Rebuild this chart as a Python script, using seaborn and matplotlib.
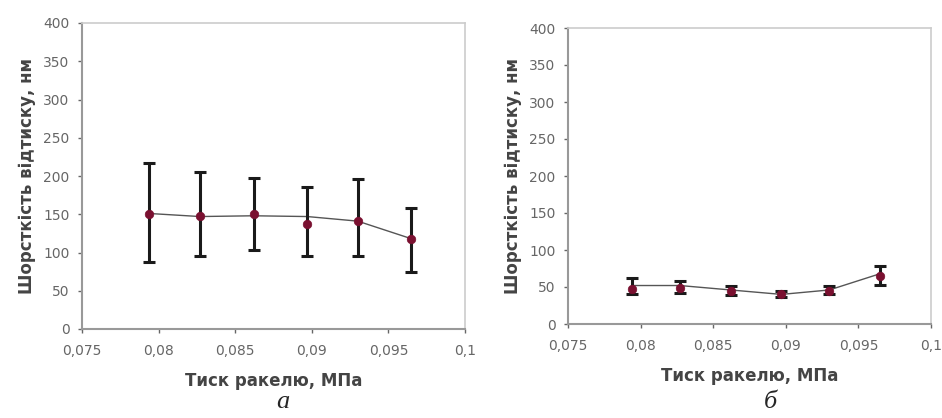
import matplotlib
matplotlib.use("Agg")
import matplotlib.pyplot as plt
import seaborn as sns
import pandas as pd
from matplotlib.ticker import FuncFormatter

# Data
pressure = [0.0794, 0.0827, 0.0862, 0.0897, 0.0930, 0.0965]

rough_a = [150, 148, 150, 137, 141, 117]
upper_a = [217, 205, 198, 186, 196, 158]
lower_a = [88, 95, 103, 95, 95, 75]
trend_a = [151, 147, 148, 147, 141, 118]

rough_b = [47, 49, 44, 40, 44, 65]
upper_b = [62, 58, 52, 45, 51, 79]
lower_b = [40, 42, 39, 36, 40, 53]
trend_b = [52, 52, 46, 40, 46, 68]

x_ticks = [0.075, 0.08, 0.085, 0.09, 0.095, 0.1]
y_ticks = [0, 50, 100, 150, 200, 250, 300, 350, 400]
panel_labels = ["а", "б"]
x_label = "Тиск ракелю, МПа"
y_label = "Шорсткість відтиску, нм"

sns.set_theme(style="white")
plt.rcParams['font.family'] = ['DejaVu Sans']

fig = plt.figure(figsize=(9.42, 4.18), dpi=100)
axes = [fig.add_axes([82/942, 1-329/418, 383/942, 306/418]),
        fig.add_axes([568/942, 1-324/418, 363/942, 296/418])]

def fmt(v, pos):
    s = ("%.3f" % v).rstrip("0").rstrip(".")
    return s.replace(".", ",")

datasets = [(rough_a, upper_a, lower_a, trend_a), (rough_b, upper_b, lower_b, trend_b)]
caption_x = [283, 770]
for ax, (r, up, lo, tr), lab, cx in zip(axes, datasets, panel_labels, caption_x):
    df = pd.DataFrame({"x": pressure, "y": r, "up": up, "lo": lo, "trend": tr})
    sns.lineplot(data=df, x="x", y="trend", ax=ax, color="#555555", lw=1.0, zorder=2)
    yerr = [df["y"] - df["lo"], df["up"] - df["y"]]
    ax.errorbar(df["x"], df["y"], yerr=yerr, fmt="none", ecolor="#1a1a1a",
                elinewidth=2.2, capsize=4.5, capthick=2.2, zorder=3)
    sns.scatterplot(data=df, x="x", y="y", ax=ax, color="#7a1030", s=38,
                    edgecolor="#7a1030", zorder=4)
    ax.set_xlim(0.075, 0.1)
    ax.set_ylim(0, 400)
    ax.set_xticks(x_ticks)
    ax.set_yticks(y_ticks)
    ax.xaxis.set_major_formatter(FuncFormatter(fmt))
    ax.tick_params(axis="both", labelsize=10, colors="#666666", length=3,
                   direction="out", width=1, bottom=True, left=True)
    ax.tick_params(axis="x", pad=8)
    ax.tick_params(axis="y", pad=6)
    for s in ["top", "right"]:
        ax.spines[s].set_color("#cccccc")
        ax.spines[s].set_linewidth(1.2)
    for s in ["left", "bottom"]:
        ax.spines[s].set_color("#999999")
        ax.spines[s].set_linewidth(1.5)
    ax.set_xlabel(x_label, fontsize=12, fontweight="bold", color="#444444", labelpad=10)
    ax.set_ylabel(y_label, fontsize=12, fontweight="bold", color="#444444", labelpad=5)
    fig.text(cx/942, 1-402/418, lab, fontsize=19, style="italic",
             family=["Liberation Serif", "DejaVu Serif"], ha="center", va="center")

fig.savefig("out.png", dpi=100)
